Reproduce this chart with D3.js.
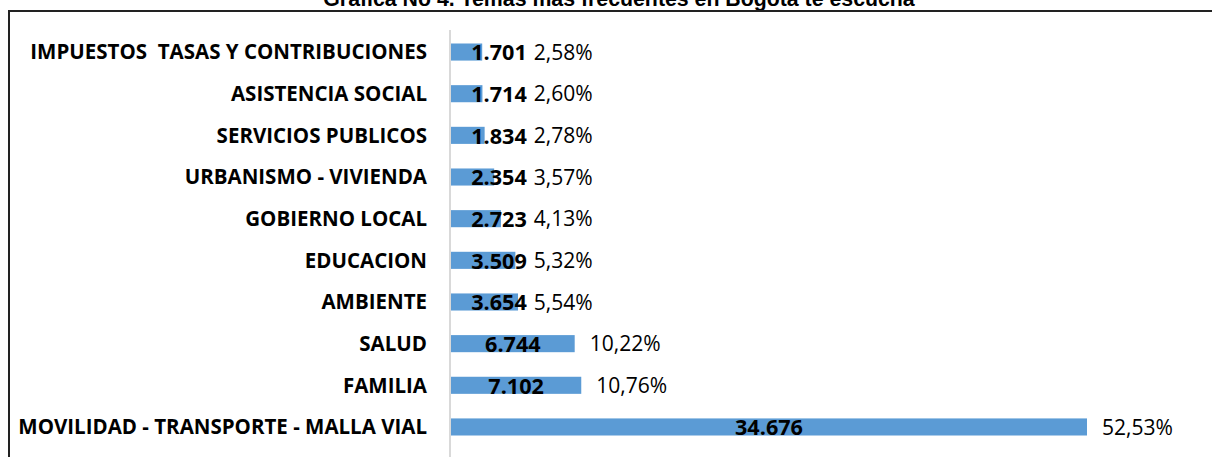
<!DOCTYPE html>
<meta charset="utf-8">
<script src="https://d3js.org/d3.v7.min.js"></script>
<style>
  body { margin: 0; background: #fff; }
  text { font-family: "Open Sans", "Noto Sans", sans-serif; white-space: pre; }
</style>
<body>
<div id="chart"></div>
<script>

// data, top to bottom
var categories = ["IMPUESTOS  TASAS Y CONTRIBUCIONES", "ASISTENCIA SOCIAL", "SERVICIOS PUBLICOS",
  "URBANISMO - VIVIENDA", "GOBIERNO LOCAL", "EDUCACION", "AMBIENTE", "SALUD", "FAMILIA",
  "MOVILIDAD - TRANSPORTE - MALLA VIAL"];
var counts = [1701, 1714, 1834, 2354, 2723, 3509, 3654, 6744, 7102, 34676];
var countLabels = ["1.701", "1.714", "1.834", "2.354", "2.723", "3.509", "3.654", "6.744", "7.102", "34.676"];
var pctLabels = ["2,58%", "2,60%", "2,78%", "3,57%", "4,13%", "5,32%", "5,54%", "10,22%", "10,76%", "52,53%"];

var width = 1212, height = 457;
var x0 = 451;

var svg = d3.select("#chart").append("svg")
    .attr("width", width)
    .attr("height", height);

// shrink or grow a text group so that its widest text has the given width
function fitFont(sel, base, target) {
  var w = 0;
  sel.each(function() { w = Math.max(w, this.getComputedTextLength()); });
  sel.style("font-size", (base * target / w) + "px");
}

// title, partly cut off at the top like in the original
var title = svg.append("text")
    .attr("x", 619)
    .attr("y", 6)
    .attr("text-anchor", "middle")
    .style("font-family", "'Liberation Sans', Arial, sans-serif")
    .style("font-weight", "bold")
    .style("font-size", "20px")
    .text("Grafica No 4. Temas mas frecuentes en Bogota te escucha");
fitFont(title, 20, 592);

// frame (top and left only visible)
svg.append("path")
    .attr("d", "M9,457 V11 H1212")
    .attr("fill", "none")
    .attr("stroke", "#222")
    .attr("stroke-width", 2);

var x = d3.scaleLinear()
    .domain([0, 34676])
    .range([x0, 1087]);

var y = d3.scaleBand()
    .domain(categories)
    .range([31, 448])
    .paddingInner(0.59)
    .paddingOuter(0.3);

// category axis line
svg.append("line")
    .attr("x1", 450).attr("x2", 450)
    .attr("y1", 30).attr("y2", 457)
    .attr("stroke", "#d9d9d9")
    .attr("stroke-width", 2);

var rows = svg.append("g").selectAll("g")
    .data(categories)
    .enter().append("g");

rows.append("rect")
    .attr("x", x(0))
    .attr("y", function(d) { return y(d); })
    .attr("width", function(d, i) { return x(counts[i]) - x(0); })
    .attr("height", y.bandwidth())
    .attr("fill", "#5b9bd5");

var catText = rows.append("text")
    .attr("x", 427)
    .attr("y", function(d) { return y(d) + y.bandwidth() / 2; })
    .attr("dy", "0.36em")
    .attr("text-anchor", "end")
    .style("font-weight", "bold")
    .style("font-size", "18px")
    .style("fill", "#000")
    .text(function(d) { return d; });
fitFont(catText, 18, 409);

var valText = rows.append("text")
    .attr("x", function(d, i) { return Math.max((x(0) + x(counts[i])) / 2, 499); })
    .attr("y", function(d) { return y(d) + y.bandwidth() / 2; })
    .attr("dy", "0.38em")
    .attr("text-anchor", "middle")
    .style("font-weight", "bold")
    .style("font-size", "20px")
    .style("fill", "#000")
    .text(function(d, i) { return countLabels[i]; });
fitFont(valText, 20, 68);

var valueEnds = [];
valText.each(function(d, i) {
  var b = this.getBBox();
  valueEnds[i] = b.x + b.width;
});

var pctText = rows.append("text")
    .attr("x", function(d, i) { return Math.max(x(counts[i]) + 15, valueEnds[i] + 7); })
    .attr("y", function(d) { return y(d) + y.bandwidth() / 2; })
    .attr("dy", "0.36em")
    .style("font-size", "18px")
    .style("fill", "#000")
    .text(function(d, i) { return pctLabels[i]; });
fitFont(pctText, 18, 71);

</script>
</body>
